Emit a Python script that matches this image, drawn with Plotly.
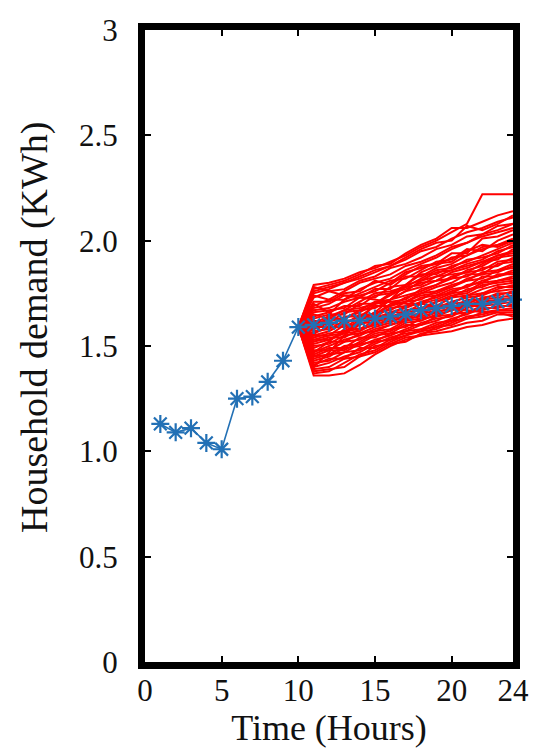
import plotly.graph_objects as go

# ---- data ----
hours = list(range(1, 25))
baseline_demand = [1.13, 1.09, 1.11, 1.04, 1.01, 1.25, 1.26, 1.33, 1.43, 1.59,
                   1.60, 1.61, 1.62, 1.62, 1.63, 1.64, 1.65, 1.67, 1.68, 1.69,
                   1.70, 1.70, 1.71, 1.72]

scenario_hours = list(range(10, 25))
scenario_start = 1.59
scenario_values = [
    [1.79, 1.80, 1.82, 1.85, 1.87, 1.90, 1.93, 1.97, 2.00, 2.04, 2.08, 2.22, 2.22, 2.22],
    [1.77, 1.79, 1.81, 1.84, 1.88, 1.89, 1.94, 1.98, 2.01, 2.06, 2.06, 2.09, 2.12, 2.14],
    [1.76, 1.78, 1.80, 1.83, 1.86, 1.88, 1.92, 1.96, 1.99, 2.00, 2.07, 2.05, 2.08, 2.12],
    [1.75, 1.77, 1.80, 1.82, 1.85, 1.88, 1.91, 1.95, 1.97, 2.01, 2.04, 2.06, 2.09, 2.11],
    [1.74, 1.72, 1.76, 1.80, 1.82, 1.84, 1.88, 1.90, 1.93, 1.97, 1.99, 2.02, 2.04, 2.06],
    [1.73, 1.76, 1.77, 1.81, 1.83, 1.87, 1.89, 1.92, 1.96, 1.98, 2.02, 2.03, 2.07, 2.08],
    [1.71, 1.71, 1.75, 1.76, 1.81, 1.79, 1.84, 1.88, 1.89, 1.94, 1.94, 2.01, 2.02, 2.05],
    [1.69, 1.72, 1.72, 1.75, 1.78, 1.81, 1.82, 1.86, 1.90, 1.91, 1.96, 1.95, 2.00, 2.03],
    [1.68, 1.70, 1.74, 1.74, 1.76, 1.80, 1.85, 1.87, 1.89, 1.90, 1.95, 1.98, 1.97, 2.00],
    [1.67, 1.68, 1.71, 1.73, 1.77, 1.77, 1.83, 1.83, 1.87, 1.89, 1.93, 1.97, 1.98, 2.01],
    [1.66, 1.67, 1.68, 1.73, 1.73, 1.78, 1.79, 1.84, 1.84, 1.88, 1.90, 1.93, 1.96, 1.99],
    [1.65, 1.63, 1.67, 1.71, 1.75, 1.76, 1.78, 1.82, 1.86, 1.87, 1.91, 1.92, 1.94, 1.98],
    [1.64, 1.66, 1.69, 1.69, 1.74, 1.75, 1.79, 1.81, 1.85, 1.86, 1.89, 1.91, 1.95, 1.97],
    [1.63, 1.65, 1.65, 1.70, 1.70, 1.75, 1.77, 1.80, 1.81, 1.85, 1.87, 1.90, 1.91, 1.96],
    [1.62, 1.61, 1.66, 1.67, 1.71, 1.72, 1.76, 1.78, 1.81, 1.82, 1.86, 1.88, 1.92, 1.93],
    [1.61, 1.64, 1.67, 1.68, 1.70, 1.74, 1.78, 1.79, 1.83, 1.84, 1.85, 1.89, 1.93, 1.94],
    [1.60, 1.63, 1.63, 1.67, 1.68, 1.72, 1.74, 1.76, 1.79, 1.82, 1.83, 1.87, 1.88, 1.92],
    [1.59, 1.59, 1.64, 1.64, 1.69, 1.69, 1.73, 1.75, 1.78, 1.80, 1.84, 1.84, 1.89, 1.90],
    [1.58, 1.62, 1.63, 1.66, 1.70, 1.71, 1.72, 1.77, 1.79, 1.83, 1.85, 1.86, 1.90, 1.91],
    [1.58, 1.61, 1.60, 1.65, 1.65, 1.70, 1.71, 1.75, 1.76, 1.79, 1.81, 1.85, 1.86, 1.89],
    [1.57, 1.58, 1.62, 1.62, 1.66, 1.67, 1.71, 1.72, 1.76, 1.78, 1.81, 1.82, 1.86, 1.87],
    [1.56, 1.59, 1.59, 1.63, 1.64, 1.68, 1.69, 1.73, 1.74, 1.77, 1.78, 1.83, 1.83, 1.86],
    [1.55, 1.55, 1.60, 1.60, 1.64, 1.65, 1.69, 1.70, 1.74, 1.75, 1.79, 1.80, 1.84, 1.84],
    [1.55, 1.57, 1.61, 1.64, 1.65, 1.69, 1.71, 1.74, 1.75, 1.78, 1.82, 1.84, 1.85, 1.88],
    [1.54, 1.56, 1.57, 1.61, 1.61, 1.66, 1.66, 1.70, 1.72, 1.75, 1.76, 1.80, 1.81, 1.83],
    [1.53, 1.53, 1.57, 1.58, 1.62, 1.63, 1.67, 1.68, 1.71, 1.73, 1.77, 1.78, 1.81, 1.82],
    [1.53, 1.55, 1.56, 1.60, 1.63, 1.66, 1.68, 1.71, 1.73, 1.76, 1.78, 1.81, 1.83, 1.85],
    [1.52, 1.54, 1.54, 1.58, 1.60, 1.63, 1.64, 1.68, 1.69, 1.73, 1.74, 1.77, 1.79, 1.80],
    [1.51, 1.53, 1.56, 1.57, 1.61, 1.64, 1.66, 1.67, 1.71, 1.74, 1.75, 1.79, 1.80, 1.81],
    [1.50, 1.51, 1.55, 1.56, 1.59, 1.61, 1.65, 1.65, 1.69, 1.70, 1.74, 1.75, 1.78, 1.78],
    [1.49, 1.52, 1.52, 1.56, 1.57, 1.60, 1.62, 1.65, 1.67, 1.70, 1.71, 1.75, 1.76, 1.77],
    [1.48, 1.48, 1.52, 1.53, 1.57, 1.58, 1.62, 1.63, 1.66, 1.68, 1.72, 1.72, 1.75, 1.75],
    [1.47, 1.50, 1.53, 1.55, 1.58, 1.60, 1.63, 1.66, 1.68, 1.71, 1.73, 1.74, 1.77, 1.79],
    [1.46, 1.49, 1.49, 1.54, 1.54, 1.58, 1.59, 1.63, 1.64, 1.67, 1.69, 1.72, 1.73, 1.74],
    [1.45, 1.46, 1.50, 1.51, 1.55, 1.56, 1.60, 1.60, 1.64, 1.65, 1.69, 1.69, 1.72, 1.72],
    [1.45, 1.48, 1.48, 1.52, 1.56, 1.57, 1.61, 1.62, 1.65, 1.67, 1.70, 1.73, 1.74, 1.76],
    [1.44, 1.46, 1.47, 1.51, 1.52, 1.56, 1.57, 1.60, 1.62, 1.65, 1.66, 1.69, 1.70, 1.71],
    [1.43, 1.45, 1.49, 1.50, 1.53, 1.55, 1.58, 1.61, 1.63, 1.64, 1.68, 1.70, 1.71, 1.73],
    [1.42, 1.43, 1.47, 1.48, 1.52, 1.53, 1.57, 1.58, 1.61, 1.62, 1.66, 1.67, 1.69, 1.69],
    [1.41, 1.44, 1.44, 1.49, 1.49, 1.53, 1.55, 1.58, 1.59, 1.62, 1.63, 1.66, 1.67, 1.68],
    [1.40, 1.42, 1.45, 1.47, 1.51, 1.54, 1.56, 1.57, 1.60, 1.63, 1.65, 1.68, 1.68, 1.70],
    [1.39, 1.40, 1.44, 1.45, 1.50, 1.51, 1.54, 1.55, 1.59, 1.60, 1.63, 1.64, 1.66, 1.66],
    [1.38, 1.39, 1.40, 1.45, 1.47, 1.51, 1.52, 1.56, 1.57, 1.59, 1.61, 1.62, 1.65, 1.65],
    [1.37, 1.38, 1.42, 1.46, 1.48, 1.52, 1.55, 1.57, 1.58, 1.61, 1.64, 1.65, 1.67, 1.67],
    [1.36, 1.36, 1.37, 1.41, 1.46, 1.50, 1.53, 1.55, 1.56, 1.57, 1.59, 1.60, 1.62, 1.63],
    [1.40, 1.47, 1.55, 1.62, 1.70, 1.72, 1.79, 1.85, 1.88, 1.92, 1.93, 1.96, 1.98, 2.00],
    [1.78, 1.76, 1.74, 1.73, 1.72, 1.71, 1.70, 1.70, 1.69, 1.68, 1.67, 1.66, 1.66, 1.64],
    [1.55, 1.65, 1.72, 1.77, 1.80, 1.82, 1.86, 1.89, 1.92, 1.96, 1.99, 2.03, 2.05, 2.08],
    [1.70, 1.66, 1.60, 1.58, 1.60, 1.62, 1.63, 1.64, 1.66, 1.68, 1.69, 1.71, 1.72, 1.73],
    [1.47, 1.52, 1.58, 1.62, 1.66, 1.72, 1.76, 1.81, 1.83, 1.86, 1.88, 1.90, 1.93, 1.95],
]

y_tick_values = [0, 0.5, 1.0, 1.5, 2.0, 2.5, 3]
y_tick_labels = ["0", "0.5", "1.0", "1.5", "2.0", "2.5", "3"]
x_tick_values = [0, 5, 10, 15, 20, 24]
x_tick_labels = ["0", "5", "10", "15", "20", "24"]

# ---- figure ----
fig = go.Figure()

for row in scenario_values:
    fig.add_trace(go.Scatter(
        x=scenario_hours, y=[scenario_start] + row,
        mode="lines", line=dict(color="#ff0000", width=2.0),
        showlegend=False, hoverinfo="skip"))

fig.add_trace(go.Scatter(
    x=hours, y=baseline_demand, mode="lines+markers",
    line=dict(color="#2270b5", width=1.6),
    marker=dict(symbol="asterisk-open", size=15,
                line=dict(color="#2270b5", width=2.2)),
    showlegend=False, cliponaxis=False))

font_family = "Liberation Serif"
text_color = "#111111"

fig.update_layout(
    width=540, height=752,
    margin=dict(l=145, r=27, t=30, b=90, autoexpand=False),
    paper_bgcolor="white", plot_bgcolor="white",
    font=dict(family=font_family, color=text_color),
    annotations=[dict(
        text="Household demand (KWh)", textangle=-90,
        xref="paper", yref="paper", x=0, y=0.53,
        xanchor="center", yanchor="middle", xshift=-111, showarrow=False,
        font=dict(size=38, family=font_family, color=text_color))],
)

fig.update_xaxes(
    range=[0, 24], tickvals=x_tick_values, ticktext=x_tick_labels,
    showline=True, linecolor="black", linewidth=7, mirror="ticks",
    ticks="inside", ticklen=6, tickwidth=1.5, tickcolor="black",
    showgrid=False, zeroline=False, automargin=False,
    tickfont=dict(size=31, family=font_family, color=text_color),
    ticklabelstandoff=-5,
    title=dict(text="Time (Hours)", font=dict(size=36, family=font_family, color=text_color),
               standoff=2),
)
fig.update_yaxes(
    range=[0, 3], tickvals=y_tick_values, ticktext=y_tick_labels,
    showline=True, linecolor="black", linewidth=7, mirror="ticks",
    ticks="inside", ticklen=6, tickwidth=1.5, tickcolor="black",
    showgrid=False, zeroline=False, automargin=False,
    tickfont=dict(size=31, family=font_family, color=text_color),
    ticklabelstandoff=14,
)

fig.write_html("out.html", config={"displayModeBar": False},
               post_script="document.body.style.margin='0px';")
